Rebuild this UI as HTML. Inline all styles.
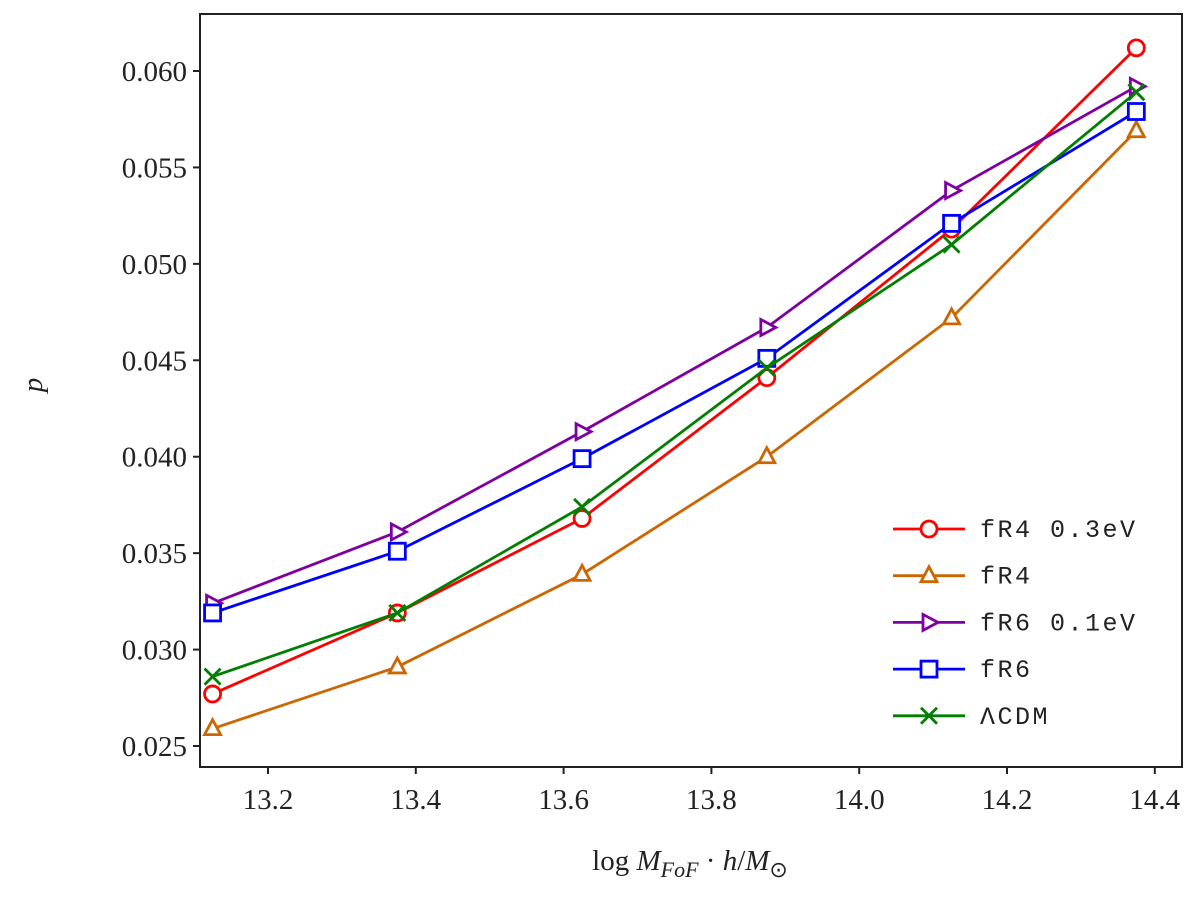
<!DOCTYPE html>
<html><head><meta charset="utf-8"><style>
html,body{margin:0;padding:0;background:#fff;}
svg{display:block;}
.tick{font-family:"Liberation Serif",serif;font-size:29px;fill:#222;}
.leg{font-family:"Liberation Mono",monospace;font-size:25px;fill:#222;letter-spacing:2.5px;}
</style></head><body>
<svg id="chart" width="1200" height="900"></svg>
<script>
const xValues=[13.125,13.375,13.625,13.875,14.125,14.375];
const xTicks=[13.2,13.4,13.6,13.8,14.0,14.2,14.4];
const xTickLabels=["13.2","13.4","13.6","13.8","14.0","14.2","14.4"];
const yTicks=[0.025,0.030,0.035,0.040,0.045,0.050,0.055,0.060];
const yTickLabels=["0.025","0.030","0.035","0.040","0.045","0.050","0.055","0.060"];
const seriesNames=["fR4 0.3eV","fR4","fR6 0.1eV","fR6","ΛCDM"];
const fR4_03=[0.0277,0.0319,0.0368,0.0441,0.0518,0.0612];
const fR4=[0.0259,0.0291,0.0339,0.0400,0.0472,0.0569];
const fR6_01=[0.0324,0.0361,0.0413,0.0467,0.0538,0.0592];
const fR6=[0.0319,0.0351,0.0399,0.0451,0.0521,0.0579];
const lcdm=[0.0286,0.0319,0.0374,0.0446,0.0510,0.0589];
const seriesData=[fR4_03,fR4,fR6_01,fR6,lcdm];
const colors=["#ff0000","#cc6600","#7f00a0","#0000ff","#007f00"];
const markers=["circle","triangle","right","square","x"];

const L=200,R=1182,T=14,B=767;
const X=v=>268+(v-13.2)/0.2*147.8;
const Y=v=>71+(0.060-v)/0.005*96.43;
const svg=document.getElementById('chart');
const NS="http://www.w3.org/2000/svg";
function mk(t,a,p){const e=document.createElementNS(NS,t);for(const k in a)e.setAttribute(k,a[k]);(p||svg).appendChild(e);return e;}

const frame=mk('rect',{x:L,y:T,width:R-L,height:B-T,fill:'none',stroke:'#222','stroke-width':2});



xTicks.forEach((v,i)=>{
  const l=mk('line',{x1:X(v),x2:X(v),y1:B,y2:B+7,stroke:'#222','stroke-width':2});
  
  
  const t=mk('text',{x:X(v),y:B+42,'text-anchor':'middle',class:'tick'});
  t.textContent=xTickLabels[i];
  
  
});
yTicks.forEach((v,i)=>{
  const l=mk('line',{x1:L-7,x2:L,y1:Y(v),y2:Y(v),stroke:'#222','stroke-width':2});
  
  
  const t=mk('text',{x:L-13,y:Y(v)+10,'text-anchor':'end',class:'tick'});
  t.textContent=yTickLabels[i];
  
  
});
const yt=mk('text',{x:42,y:385,'text-anchor':'middle',class:'tick','font-style':'italic','font-size':'36',transform:'rotate(-90 42 385)'});
yt.textContent='p';


const xt=mk('text',{x:690,y:870,'text-anchor':'middle',class:'tick','font-size':'35'});
xt.innerHTML='log  <tspan font-style="italic">M</tspan><tspan font-style="italic" font-size="22" dy="7">FoF</tspan><tspan dy="-7"> · </tspan><tspan font-style="italic">h</tspan>/<tspan font-style="italic">M</tspan><tspan font-size="22" dy="7">⊙</tspan>';



function marker(kind,cx,cy,c,g){
  const s=8,a={fill:'#fff',stroke:c,'stroke-width':2.8};
  let e;
  if(kind==='circle')e=mk('circle',Object.assign({cx,cy,r:s},a),g);
  else if(kind==='square')e=mk('rect',Object.assign({x:cx-s,y:cy-s,width:2*s,height:2*s},a),g);
  else if(kind==='triangle')e=mk('polygon',Object.assign({points:`${cx},${cy-s-1} ${cx-s},${cy+s-2} ${cx+s},${cy+s-2}`},a),g);
  else if(kind==='right')e=mk('polygon',Object.assign({points:`${cx+s+1},${cy} ${cx-s+2},${cy-s} ${cx-s+2},${cy+s}`},a),g);
  else e=mk('path',{d:`M${cx-s} ${cy-s}L${cx+s} ${cy+s}M${cx-s} ${cy+s}L${cx+s} ${cy-s}`,stroke:c,'stroke-width':2.8,fill:'none'},g);
  
  
}

seriesData.forEach((d,si)=>{
  const g=mk('g',{});
  
  
  const pl=mk('polyline',{points:d.map((v,i)=>X(xValues[i])+','+Y(v)).join(' '),fill:'none',stroke:colors[si],'stroke-width':2.8},g);
  
  
  d.forEach((v,i)=>marker(markers[si],X(xValues[i]),Y(v),colors[si],g));
  const ly=529+si*46.7;
  const lg=mk('g',{});
  
  
  mk('line',{x1:893,x2:965,y1:ly,y2:ly,stroke:colors[si],'stroke-width':2.8},lg);
  marker(markers[si],929,ly,colors[si],lg);
  const t=mk('text',{x:980,y:ly+8,class:'leg'},lg);
  t.textContent=seriesNames[si];
});
</script>
</body></html>
